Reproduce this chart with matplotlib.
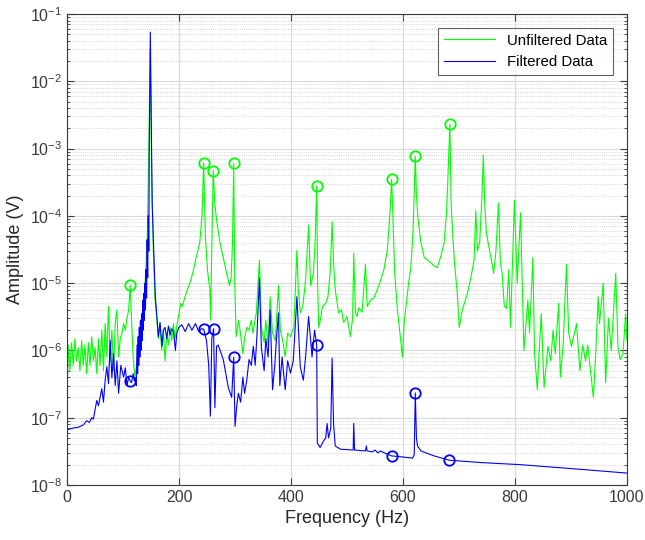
"""Amplitude spectrum of unfiltered and filtered signal with detected peaks."""

import matplotlib

matplotlib.use("Agg")
import matplotlib.pyplot as plt
from matplotlib.ticker import LogLocator, MultipleLocator, NullFormatter

plt.rcParams["font.family"] = ["Liberation Sans", "DejaVu Sans"]
plt.rcParams["mathtext.fontset"] = "custom"
plt.rcParams["mathtext.rm"] = "Liberation Sans"
plt.rcParams["mathtext.it"] = "Liberation Sans:italic"

# unfiltered spectrum (Hz, V)
unfilt_freq = [
    0, 2, 5, 8, 11, 14, 17, 20, 23, 26, 29, 32, 35, 38, 41, 44, 47, 50, 53, 56,
    59, 62, 65, 68, 71, 74, 77, 80, 83, 86, 89, 92, 95, 98, 101, 104, 107, 110,
    112.8, 115, 118, 121, 124, 128, 133, 138, 143, 146, 148.5, 151, 154, 157,
    160, 163, 166, 169, 172, 175, 178, 181, 184, 187, 190, 193, 196, 200, 203,
    206, 210, 215, 221, 226, 231, 237, 241, 244, 247, 251, 255, 256.5, 258,
    261, 264, 267, 273, 279, 285, 290, 293, 295.5, 297.6, 299.5, 302, 306,
    309, 314, 317, 321, 325, 329, 332, 335, 338, 343.6, 347, 352, 355, 359,
    362.7, 367, 372, 377.6, 381, 385, 389.6, 394, 399, 405, 410.5, 413, 416.5,
    421, 426, 431.4, 435, 440, 443, 445.8, 447.5, 449.4, 453, 456, 462, 466,
    470, 473.4, 476, 479, 485, 490, 494, 500, 506, 510, 512, 515, 518, 521,
    527, 533, 536, 542, 548, 554, 560, 566, 572, 577, 579.7, 582, 585, 590,
    594, 599, 602, 606, 610, 614, 618, 622, 624, 627, 632, 638, 644, 650, 655,
    661, 667, 673.5, 678, 683.8, 686, 689, 692, 697, 700.5, 706, 715, 722, 727,
    730, 733, 737, 741, 743.5, 746, 749, 757, 762, 766, 770.5, 774, 777, 781,
    785, 789, 792, 799, 804, 810, 816, 823, 826, 832, 835, 840, 843, 847, 852,
    859, 864, 868, 872, 878, 881, 886, 892, 896, 901, 910, 916, 921, 926, 930,
    940, 944, 948.6, 951, 957.6, 962, 967, 972, 980, 984, 988, 993, 997.6, 1000,
]
unfilt_amp = [
    2e-7, 1.2e-6, 5e-7, 1.3e-6, 6e-7, 1.5e-6, 7e-7, 1.1e-6, 5e-7, 1.4e-6,
    6e-7, 1.2e-6, 4.5e-7, 1.3e-6, 6e-7, 1.6e-6, 7e-7, 1.1e-6, 4.5e-7, 1.5e-6,
    6e-7, 2e-6, 5e-7, 2.5e-6, 8e-7, 4.5e-6, 7e-7, 2e-6, 5e-7, 2.5e-6, 4e-6,
    8e-7, 1.5e-6, 1.8e-6, 2.5e-6, 2e-6, 3e-6, 4e-6,
    9.4e-6, 3e-6, 8e-7, 4e-7, 6e-7, 1e-6, 2e-6, 6e-6, 4e-5, 1e-3, 3e-2, 5e-4,
    3e-5, 6e-6,
    3e-6, 1.5e-6, 2.5e-6, 1e-6, 2e-6, 7e-7, 1.8e-6, 1.2e-6, 2.2e-6, 1.4e-6,
    2.5e-6, 1.5e-6, 2.3e-6, 3.6e-6, 5e-6,
    4.5e-6, 6e-6, 8e-6, 1.1e-5, 1.6e-5, 2.5e-5, 4e-5, 1e-4, 6.1e-4, 5e-5,
    1.5e-5, 8e-6, 2.8e-6, 2e-5,
    4.7e-4, 1.5e-4, 8.7e-5, 4e-5, 2.4e-5, 1.4e-5, 9.2e-6, 1.2e-5, 4e-5,
    6.1e-4, 1e-5, 1.6e-6, 2.8e-6,
    2e-6, 9e-7, 1.5e-6, 2.2e-6, 2e-6, 2.8e-6, 1.8e-6, 2.6e-6, 3.6e-6, 2.2e-5,
    2.2e-6, 1.3e-6, 2.8e-6, 1.2e-6,
    6.3e-6, 1.8e-6, 1.4e-6, 9.2e-6, 2e-6, 1.4e-6, 8.1e-7, 1.8e-6, 1.6e-6,
    2.2e-6, 3.1e-5, 8e-6, 3.6e-6,
    4.5e-6, 1.1e-5, 7.3e-5, 9.2e-6, 1.4e-5, 4e-5, 2.8e-4, 1e-5, 2.2e-6, 3e-6,
    4.5e-6, 5e-6, 6.3e-6,
    1.5e-5, 8.1e-5, 2e-5, 8e-6, 3.6e-6, 4e-6, 2.6e-6, 3.2e-6, 1.6e-6, 3e-6,
    2.8e-5, 3.7e-6, 3.2e-6, 4.3e-6,
    3.7e-6, 1.9e-5, 4.5e-6, 5.6e-6, 6e-6, 8e-6, 1.1e-5, 1.6e-5, 3.1e-5,
    1.2e-4, 3.5e-4, 1e-4, 1.5e-5, 4e-6,
    2e-6, 8e-7, 2.5e-6, 5e-6, 1e-5, 1.7e-5, 6e-5, 7.7e-4, 2e-4, 8.7e-5, 4e-5,
    2.4e-5, 2.2e-5, 2e-5, 1.8e-5,
    1.7e-5, 2.4e-5, 4e-5, 1.2e-4, 2.3e-3, 1.5e-4, 5e-5, 2e-5, 7e-6, 2.2e-6,
    4e-6, 7e-6, 1.3e-5, 2.2e-5,
    1.2e-4, 3e-5, 4e-5, 2e-4, 8e-4, 1.5e-4, 5.5e-5, 2.4e-5, 1.4e-5, 3e-5,
    1.55e-4, 2e-5, 1.4e-5, 4.5e-6,
    4.2e-6, 1.6e-5, 2.2e-6, 1.7e-4, 1e-5, 1.1e-4, 1e-6, 5.6e-6, 1.8e-6,
    2.4e-5, 9e-7, 2.6e-7, 9e-7, 3.5e-6, 2.8e-7,
    1.15e-6, 7e-7, 2e-6, 9e-7, 5e-6, 4e-7, 1.2e-6, 1.9e-5, 1.8e-6, 1.15e-6,
    2.5e-6, 5e-7, 1.2e-6, 7e-7, 1.2e-6,
    2e-7, 8e-7, 6.3e-6, 2.5e-6, 1e-5, 3.3e-7, 3e-6, 1e-6, 1.4e-5, 1.1e-6,
    7.3e-7, 9e-7, 3.5e-6, 1.4e-6,
]

# filtered spectrum (Hz, V)
filt_freq = [
    0, 11, 20, 29, 35, 40, 44, 47, 50, 53, 56, 59, 62, 65, 68, 71, 74, 77, 80,
    83, 86, 89, 92, 96, 101, 104, 107, 110, 112.8, 115, 118, 120, 122, 123.5,
    125, 126, 127, 128, 129, 130, 131, 132, 133, 134, 135, 136, 137, 138, 139,
    140, 141, 142, 143, 144, 145, 146, 146.8, 148.7,
    150.5, 152, 154.6, 157.6, 160, 163, 166, 169.5, 172, 175, 178, 181, 184,
    187, 190, 193.5, 196, 199.5, 205, 211, 217, 223, 229.4, 235, 240, 244,
    249, 253, 256, 258.5, 261.7, 264, 267, 270, 279, 288, 294, 297.6, 300,
    303, 306, 310, 314, 317, 321, 325, 329, 332.7, 336, 339, 343.6, 347, 352,
    355, 359, 362.7, 367, 371, 374, 377.6, 380, 384, 389.6, 394, 399, 404,
    410.5, 416.5, 422, 426, 431.4, 437.5, 442, 445.8, 447, 452, 458, 462,
    464.4, 467, 471, 473.4, 476, 479, 488, 511, 512, 513.5, 533, 534.5, 536,
    545, 550, 555, 560, 570, 579.7, 600, 617, 620, 622, 624, 626, 632, 655.6,
    682.6, 739, 810, 900, 1000,
]
filt_amp = [
    6.6e-8, 7e-8, 7.2e-8, 7.8e-8, 9e-8, 8.5e-8, 1e-7, 9.5e-8, 1.3e-7, 1.8e-7,
    1.5e-7, 2e-7, 2.7e-7, 1.7e-7, 3.6e-7, 5.7e-7, 3.2e-7, 1.4e-6, 3.9e-7,
    9e-7, 3e-7, 7e-7, 2.3e-7, 6e-7, 4e-7, 5.5e-7, 3e-7, 4e-7, 3.5e-7, 3.3e-7,
    4.5e-7, 3.5e-7, 3.9e-7, 3e-7,
    1.2e-6, 4.5e-7, 1.6e-6, 6e-7, 2.2e-6, 8e-7, 2.8e-6, 1e-6, 3.5e-6, 1.4e-6,
    5.6e-6, 2e-6, 7e-6, 2.8e-6, 1e-5,
    4e-6, 1.6e-5, 6e-6, 4.4e-5, 1.2e-5, 1e-4, 3e-5, 1e-3, 5.4e-2,
    2e-3, 1.5e-4, 3.5e-5, 6.3e-6, 3.6e-6, 1.6e-6, 2.6e-6, 1.15e-6, 2e-6,
    2.2e-6, 1.5e-6, 2.3e-6, 1.7e-6,
    2.1e-6, 1.9e-6, 1e-6, 1.8e-6, 2.2e-6, 2.4e-6, 1.9e-6, 2.5e-6, 2e-6,
    2.5e-6, 1.9e-6, 2.1e-6, 2.07e-6,
    1.4e-6, 6e-7, 1.05e-7, 1.5e-6, 2.1e-6, 1.4e-7, 1.15e-6, 1.2e-6, 7.3e-7,
    2.8e-7, 2e-7, 7.9e-7, 7.4e-8,
    1.5e-7, 2.3e-7, 1.7e-7, 4e-7, 2.3e-7, 3.6e-7, 7.3e-7, 6e-7, 1.15e-6,
    6e-7, 1.6e-6, 1.2e-5, 1.1e-6, 5e-7,
    1.5e-6, 8e-7, 4e-6, 2.6e-7, 6e-7, 1.5e-6, 3.6e-6, 3e-7, 8e-7, 2.6e-7,
    7e-7, 4.6e-7, 7e-7,
    6.3e-6, 5.7e-7, 3.6e-7, 8e-7, 3.2e-6, 8e-7, 2e-6, 1.22e-6, 4.2e-8,
    3.6e-8, 4.5e-8, 5e-8,
    8.2e-8, 5e-8, 7e-8, 7.7e-7, 8e-8, 3.8e-8, 3.4e-8, 3.3e-8, 8.2e-8, 3.3e-8,
    3.2e-8, 3.8e-8, 3.2e-8,
    3.1e-8, 3.3e-8, 3e-8, 3.2e-8, 2.9e-8, 2.7e-8, 2.6e-8, 2.5e-8, 2.8e-8,
    2.33e-7, 5e-8, 3.8e-8, 3.2e-8, 2.7e-8,
    2.33e-8, 2.15e-8, 2e-8, 1.75e-8, 1.5e-8,
]

# detected peaks
unfilt_peak_freq = [112.8, 244, 261, 297.6, 445.8, 579.7, 622, 683.8]
unfilt_peak_amp = [9.4e-6, 6.1e-4, 4.7e-4, 6.1e-4, 2.8e-4, 3.5e-4, 7.7e-4, 2.3e-3]
filt_peak_freq = [112.8, 244, 261.7, 297.6, 445.8, 579.7, 622, 682.6]
filt_peak_amp = [3.5e-7, 2.07e-6, 2.1e-6, 7.9e-7, 1.22e-6, 2.7e-8, 2.33e-7, 2.33e-8]

GREEN = "#00ff00"
BLUE = "#0000ff"
AXIS_GRAY = "#3a3a3a"


def main() -> None:
    fig = plt.figure(figsize=(6.45, 5.4), dpi=100)
    ax = fig.add_axes([0.104, 0.102, 0.868, 0.872])

    ax.plot(unfilt_freq, unfilt_amp, color=GREEN, linewidth=0.8, label="Unfiltered Data")
    ax.plot(filt_freq, filt_amp, color=BLUE, linewidth=0.8, label="Filtered Data")
    ax.plot(unfilt_peak_freq, unfilt_peak_amp, "o", markersize=7.5, markeredgewidth=1.3,
            markerfacecolor="none", markeredgecolor=GREEN)
    ax.plot(filt_peak_freq, filt_peak_amp, "o", markersize=7.5, markeredgewidth=1.3,
            markerfacecolor="none", markeredgecolor=BLUE)

    ax.set_yscale("log")
    ax.set_xlim(0, 1000)
    ax.set_ylim(1e-8, 1e-1)
    ax.xaxis.set_major_locator(MultipleLocator(200))
    ax.yaxis.set_major_locator(LogLocator(base=10, numticks=10))
    ax.yaxis.set_minor_locator(LogLocator(base=10, subs=range(2, 10), numticks=100))
    ax.yaxis.set_minor_formatter(NullFormatter())

    ax.grid(which="major", color="#d9d9d9", linewidth=0.8, linestyle="-")
    ax.grid(which="minor", axis="y", color="#c8c8c8", linewidth=0.6, linestyle=":")
    ax.set_axisbelow(True)

    ax.tick_params(which="both", direction="in", top=True, right=True,
                   colors=AXIS_GRAY, labelsize=11.5)
    ax.tick_params(which="major", length=5, width=0.8)
    ax.tick_params(which="minor", length=2.5, width=0.6)
    for spine in ax.spines.values():
        spine.set_color(AXIS_GRAY)
        spine.set_linewidth(0.8)

    ax.set_xlabel("Frequency (Hz)", fontsize=13, color="#262626")
    ax.set_ylabel("Amplitude (V)", fontsize=13, color="#262626")

    legend = ax.legend(loc="upper right", fontsize=10.8, frameon=True, fancybox=False,
                       handlelength=3.4, borderaxespad=0.9, edgecolor=AXIS_GRAY)
    legend.get_frame().set_linewidth(0.8)

    fig.savefig("out.png", dpi=100)
    plt.close(fig)


if __name__ == "__main__":
    main()
